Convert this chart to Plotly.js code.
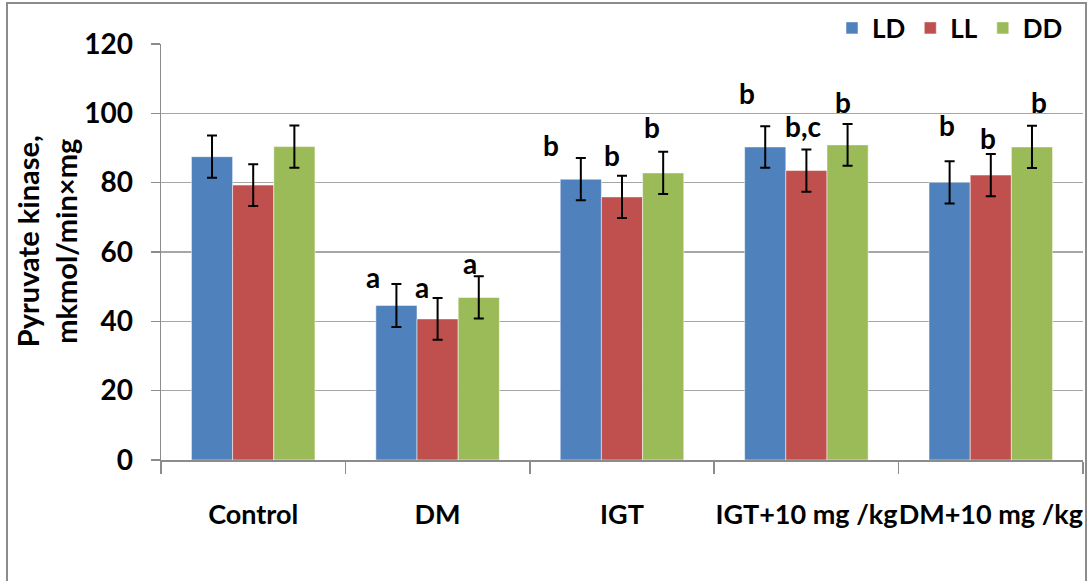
<!DOCTYPE html>
<html><head><meta charset="utf-8">
<script src="https://cdn.plot.ly/plotly-3.0.1.min.js"></script>
<style>
html,body{margin:0;padding:0;background:#fff;}
#wrap{position:relative;width:1090px;height:581px;overflow:hidden;}
#chart{position:absolute;left:0;top:0;width:1090px;height:581px;}
#frame{position:absolute;left:6px;top:2px;width:1077px;height:620px;border:2px solid #8c8c8c;pointer-events:none;}
</style></head>
<body><div id="wrap"><div id="chart"></div><div id="frame"></div></div>
<script>
const categories = ["Control", "DM", "IGT", "IGT+10 mg /kg", "DM+10 mg /kg"];
const seriesNames = ["LD", "LL", "DD"];
const LD = [87.5, 44.6, 81.0, 90.3, 80.1];
const LL = [79.3, 40.7, 75.9, 83.5, 82.2];
const DD = [90.4, 46.9, 82.8, 90.9, 90.3];
const LD_err = [6.1, 6.2, 6.1, 6.0, 6.1];
const LL_err = [6.0, 6.0, 6.1, 6.1, 6.1];
const DD_err = [6.1, 6.1, 6.1, 6.0, 6.1];
const sigLabels = [
  ["", "", ""],
  ["a", "a", "a"],
  ["b", "b", "b"],
  ["b", "b,c", "b"],
  ["b", "b", "b"]
];

const colors = ["#4F81BD", "#C0504D", "#9BBB59"];
const values = [LD, LL, DD];
const errs = [LD_err, LL_err, DD_err];
const FONT = "Lato, 'Open Sans', sans-serif";

const traces = values.map((v, i) => ({
  type: "bar",
  name: "<b>" + seriesNames[i] + "</b>",
  x: categories,
  y: v,
  marker: {color: colors[i], line: {color: "rgba(255,255,255,0.5)", width: 1}},
  error_y: {type: "data", array: errs[i], visible: true, color: "#000", thickness: 2, width: 5}
}));

// label placement (category index offsets and heights)
const labelPos = [
  null,
  [[0.650, 52.8], [0.915, 49.9], [1.176, 56.8]],
  [[1.615, 90.9], [1.946, 88.0], [2.163, 96.0]],
  [[2.678, 105.9], [2.982, 96.3], [3.198, 103.3]],
  [[3.762, 96.6], [3.985, 92.9], [4.261, 103.3]]
];
const annotations = [];
sigLabels.forEach((row, c) => {
  row.forEach((t, s) => {
    if (!t) return;
    annotations.push({
      xref: "x", yref: "y", x: labelPos[c][s][0], y: labelPos[c][s][1],
      text: "<b>" + t + "</b>", showarrow: false,
      font: {family: FONT, size: 28, color: "#000"}
    });
  });
});
annotations.push({
  xref: "paper", yref: "paper", x: -0.124, y: 0.525, xanchor: "center", yanchor: "middle",
  text: "<b>Pyruvate kinase,<br>mkmol/min×mg</b>", showarrow: false, textangle: -90,
  font: {family: FONT, size: 29, color: "#000"}
});

const layout = {
  width: 1090, height: 581,
  margin: {l: 161, r: 7, t: 44, b: 121, autoexpand: false},
  paper_bgcolor: "#fff", plot_bgcolor: "#fff",
  barmode: "group", bargap: 0.33, bargroupgap: 0,
  showlegend: true,
  legend: {orientation: "h", x: 1068 / 1090, xref: "container", xanchor: "right",
           yref: "container", y: 1 - 28 / 581, yanchor: "middle",
           font: {family: FONT, size: 26, color: "#000"}, traceorder: "normal", itemwidth: 30},
  xaxis: {
    type: "category", tickson: "boundaries", ticks: "outside", ticklen: 12, tickcolor: "#8c8c8c", tickwidth: 1.5,
    showline: true, linecolor: "#8c8c8c", linewidth: 1.5, showgrid: false, tickangle: 0, automargin: false,
    tickfont: {family: FONT, size: 27, color: "#000"}, ticklabelstandoff: 30,
    tickprefix: "<b>", ticksuffix: "</b>"
  },
  yaxis: {
    range: [0, 120], dtick: 20, ticks: "outside", ticklen: 9, tickcolor: "#8c8c8c", tickwidth: 1.5,
    showline: true, linecolor: "#8c8c8c", linewidth: 1.5, automargin: false,
    showgrid: true, gridcolor: "#a6a6a6", gridwidth: 1.5, zeroline: false,
    tickfont: {family: FONT, size: 28, color: "#000"}, tickprefix: "<b>", ticksuffix: "</b>",
    ticklabelstandoff: 12
  },
  annotations: annotations
};
Plotly.newPlot("chart", traces, layout, {staticPlot: true, displayModeBar: false});
</script></body></html>
